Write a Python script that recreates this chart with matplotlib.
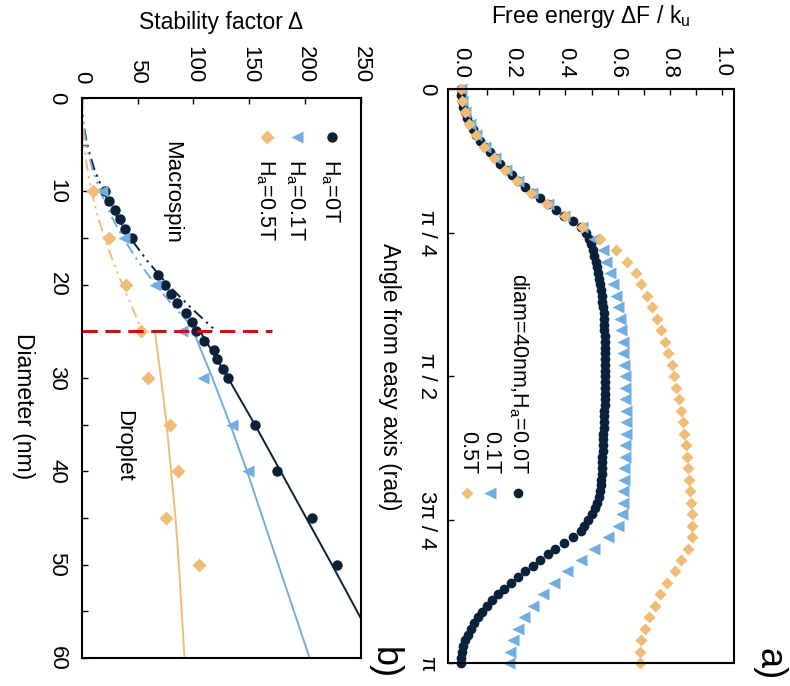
import numpy as np
import matplotlib
matplotlib.use("Agg")
import matplotlib.pyplot as plt

plt.rcParams["font.family"] = "Liberation Sans"
plt.rcParams["mathtext.fontset"] = "custom"
plt.rcParams["mathtext.rm"] = "Liberation Sans"
plt.rcParams["mathtext.it"] = "Liberation Sans:italic"

NAVY = "#0a2239"
BLUE = "#72ade0"
ORANGE = "#f1bd76"
RED = "#cc1111"

# ---- (a) free energy along the reversal path, diam = 40 nm ----
angle_fine = np.linspace(0, np.pi, 101)
angle = np.linspace(0, np.pi, 51)

energy_0T = [
    0.000, 0.001, 0.004, 0.009, 0.016, 0.024, 0.034, 0.046, 0.060, 0.075,
    0.092, 0.110, 0.130, 0.151, 0.173, 0.196, 0.220, 0.246, 0.273, 0.302,
    0.332, 0.364, 0.396, 0.428, 0.458, 0.478, 0.490, 0.498, 0.505, 0.511,
    0.516, 0.521, 0.525, 0.529, 0.533, 0.537, 0.540, 0.542, 0.544, 0.546,
    0.547, 0.548, 0.549, 0.550, 0.551, 0.551, 0.552, 0.552, 0.552, 0.552,
    0.552, 0.552, 0.551, 0.551, 0.550, 0.550, 0.549, 0.548, 0.547, 0.546,
    0.545, 0.544, 0.544, 0.543, 0.542, 0.541, 0.540, 0.539, 0.538, 0.535,
    0.532, 0.528, 0.522, 0.513, 0.500, 0.486, 0.473, 0.460, 0.431, 0.396,
    0.362, 0.333, 0.302, 0.277, 0.245, 0.218, 0.191, 0.166, 0.143, 0.121,
    0.101, 0.083, 0.066, 0.051, 0.038, 0.026, 0.017, 0.010, 0.005, 0.002,
    0.000,
]
energy_01T = [
    0.000, 0.004, 0.016, 0.034, 0.060, 0.092, 0.130, 0.173, 0.220, 0.273,
    0.332, 0.396, 0.462, 0.510, 0.545, 0.557, 0.570, 0.584, 0.593, 0.601,
    0.608, 0.614, 0.619, 0.622, 0.625, 0.627, 0.629, 0.630, 0.631, 0.632,
    0.631, 0.629, 0.627, 0.625, 0.624, 0.622, 0.620, 0.616, 0.603, 0.565,
    0.510, 0.460, 0.405, 0.356, 0.313, 0.275, 0.243, 0.217, 0.198, 0.188,
    0.185,
]
energy_05T = [
    0.000, 0.003, 0.015, 0.030, 0.058, 0.090, 0.128, 0.170, 0.215, 0.268,
    0.330, 0.398, 0.465, 0.532, 0.595, 0.636, 0.669, 0.691, 0.712, 0.733,
    0.750, 0.767, 0.780, 0.793, 0.806, 0.816, 0.825, 0.835, 0.844, 0.850,
    0.855, 0.860, 0.864, 0.869, 0.873, 0.878, 0.882, 0.885, 0.886, 0.886,
    0.869, 0.844, 0.818, 0.790, 0.761, 0.742, 0.720, 0.704, 0.691, 0.685,
    0.685,
]

# ---- (b) stability factor vs diameter ----
diam_0T = [10, 11, 12, 13, 14, 15, 19, 20, 21, 22, 23, 24, 25, 26, 27, 28, 29, 30, 35, 40, 45, 50]
delta_0T = [20.5, 24.7, 29.8, 34.3, 38.8, 44.8, 68.0, 74.5, 80.3, 85.0, 93.4, 98.5, 102.0,
            109.5, 118.5, 121.0, 126.5, 131.0, 155.0, 174.6, 206.5, 228.3]
diam_01T = [10, 15, 20, 25, 30, 35, 40]
delta_01T = [18.0, 37.5, 65.6, 89.5, 108.9, 134.3, 149.2]
diam_05T = [10, 15, 20, 25, 30, 35, 40, 45, 50]
delta_05T = [10.5, 24.5, 40.0, 53.0, 59.6, 79.0, 86.5, 75.5, 105.0]

# macrospin estimate (small sizes)
diam_ms = [0, 2.5, 5, 7.5, 10, 12.5, 15, 17.5, 20, 22.5, 25]
ms_0T = [0, 1.2, 4.8, 10.9, 19.3, 30.2, 43.5, 59.0, 77.0, 98.0, 120.5]
ms_01T = [0, 1.0, 4.1, 9.3, 16.5, 25.8, 37.1, 50.5, 66.0, 83.5, 103.0]
ms_05T = [0, 0.5, 2.1, 4.9, 8.8, 13.9, 20.5, 28.0, 36.5, 45.5, 54.0]

# droplet estimate (large sizes)
diam_dr = [25, 30, 35, 40, 45, 50, 55, 60]
dr_0T = [106, 131, 155, 178, 201, 224, 246.5, 269]
dr_01T = [100, 117, 133, 148, 162, 176, 190, 204]
dr_05T = [65.5, 71, 76, 80, 84, 87, 89.5, 92]

W, H = 790, 686
fig = plt.figure(figsize=(W / 100, H / 100), dpi=100)


def fx(px):
    return px / W


def fy(py):
    return 1 - py / H


def style_axes(ax):
    for s in ax.spines.values():
        s.set_linewidth(1.5)
    ax.xaxis.set_ticks_position("top")
    ax.xaxis.set_label_position("top")
    ax.tick_params(which="both", direction="in", length=4, width=1,
                   top=True, bottom=False, left=True, right=False, labelsize=16)


# panel a
ax_a = fig.add_axes([fx(447.7), fy(663.3), (734 - 447.7) / W, (663.3 - 89.3) / H])
style_axes(ax_a)
ax_a.plot(energy_0T, angle_fine, "o", color=NAVY, ms=7, mec="none", clip_on=False)
ax_a.plot(energy_01T, angle, "<", color=BLUE, ms=8.5, mec="none", clip_on=False)
ax_a.plot(energy_05T, angle, "D", color=ORANGE, ms=6.5, mec="none", clip_on=False)
ax_a.set_xlim(-0.05, 1.045)
ax_a.set_ylim(np.pi, 0)
ax_a.set_xticks(np.arange(0, 1.01, 0.2))
ax_a.set_xticks(np.arange(0.1, 1.0, 0.2), minor=True)
ax_a.set_xticklabels([f"{v:.1f}" for v in np.arange(0, 1.01, 0.2)], rotation=-90)
ax_a.set_yticks([0, np.pi / 4, np.pi / 2, 3 * np.pi / 4, np.pi])
ax_a.set_yticklabels(["0", "π / 4", "π / 2", "3π / 4", "π"], rotation=-90, va="center")
ax_a.tick_params(axis="x", which="major", pad=8.5)
ax_a.tick_params(axis="y", pad=7.5)

fig.text(fx(591), fy(17), r"Free energy ΔF / k$_\mathrm{u}$", ha="center", va="center", fontsize=16.5)
fig.text(fx(390), fy(377), "Angle from easy axis (rad)", rotation=-90,
         ha="center", va="center", fontsize=16.5)

# legend of panel a, written down the page
leg_a = [(518, NAVY, "o", 7, r"diam=40nm,H$_\mathrm{a}$=0.0T"),
         (490, BLUE, "<", 8.5, "0.1T"),
         (466.5, ORANGE, "D", 6.5, "0.5T")]
for x, c, m, s, lab in leg_a:
    ax_a.plot([fx(x)], [fy(493.3)], m, color=c, ms=s, mec="none",
              transform=fig.transFigure, clip_on=False)
    fig.text(fx(x + 1), fy(474), lab, rotation=-90, ha="center", va="bottom", fontsize=15.5)

fig.text(fx(769), fy(664), "a)", rotation=-90, ha="center", va="center", fontsize=26)

# panel b
ax_b = fig.add_axes([fx(81.7), fy(658), (361 - 81.7) / W, (658 - 98) / H])
style_axes(ax_b)
dashdot = (0, (6, 2.5, 1.2, 2.5, 1.2, 2.5))
ax_b.plot(ms_0T, diam_ms, color=NAVY, lw=1.4, linestyle=dashdot)
ax_b.plot(ms_01T, diam_ms, color=BLUE, lw=1.4, linestyle=dashdot)
ax_b.plot(ms_05T, diam_ms, color=ORANGE, lw=1.4, linestyle=dashdot)
ax_b.plot(dr_0T, diam_dr, color=NAVY, lw=1.4)
ax_b.plot(dr_01T, diam_dr, color=BLUE, lw=1.4)
ax_b.plot(dr_05T, diam_dr, color=ORANGE, lw=1.4)
ax_b.plot(delta_0T, diam_0T, "o", color=NAVY, ms=7.5, mec="none")
ax_b.plot(delta_01T, diam_01T, "<", color=BLUE, ms=9, mec="none")
ax_b.plot(delta_05T, diam_05T, "D", color=ORANGE, ms=7, mec="none")
ax_b.plot([0, 170], [25, 25], color=RED, lw=2.2, linestyle=(0, (5, 2.5)))
ax_b.set_xlim(0, 250)
ax_b.set_ylim(60, 0)
ax_b.set_xticks(np.arange(0, 251, 50))
ax_b.set_xticklabels([str(v) for v in range(0, 251, 50)], rotation=-90)
ax_b.set_yticks(np.arange(0, 61, 10))
ax_b.set_yticks(np.arange(5, 60, 10), minor=True)
ax_b.set_yticklabels([str(v) for v in range(0, 61, 10)], rotation=-90, va="center")
ax_b.tick_params(axis="x", pad=10.5)
ax_b.tick_params(axis="y", pad=10.3)

fig.text(fx(221), fy(22), "Stability factor Δ", ha="center", va="center", fontsize=16.5)
fig.text(fx(23), fy(406), "Diameter (nm)", rotation=-90, ha="center", va="center", fontsize=16.5)
fig.text(fx(172), fy(192), "Macrospin", rotation=-90, ha="center", va="center", fontsize=16)
fig.text(fx(124), fy(446), "Droplet", rotation=-90, ha="center", va="center", fontsize=16)

leg_b = [(331.7, NAVY, "o", 7.5, r"H$_\mathrm{a}$=0T"),
         (296.7, BLUE, "<", 9, r"H$_\mathrm{a}$=0.1T"),
         (266.7, ORANGE, "D", 7, r"H$_\mathrm{a}$=0.5T")]
for x, c, m, s, lab in leg_b:
    ax_b.plot([fx(x)], [fy(136.7)], m, color=c, ms=s, mec="none",
              transform=fig.transFigure, clip_on=False)
    fig.text(fx(x - 1), fy(159), lab, rotation=-90, ha="center", va="top", fontsize=15.5)

fig.text(fx(384), fy(663), "b)", rotation=-90, ha="center", va="center", fontsize=26)

fig.savefig("out.png", dpi=100)
